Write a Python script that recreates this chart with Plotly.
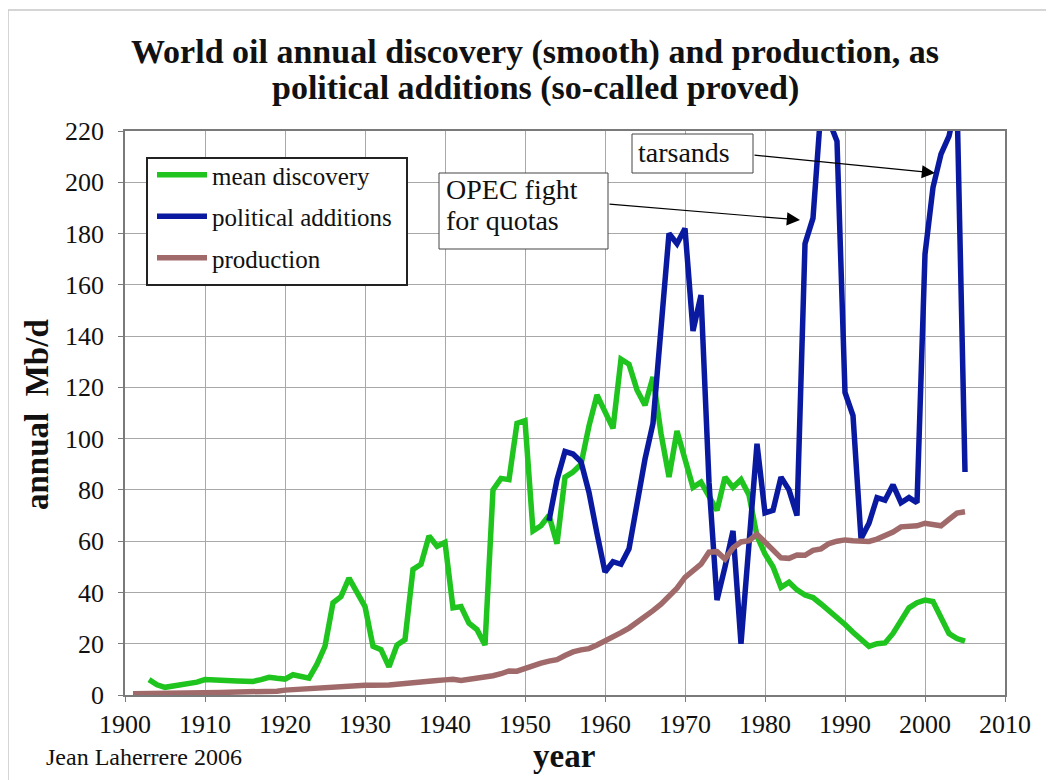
import plotly.graph_objects as go

# ---------------- data ----------------
disc_years = list(range(1903, 2006))
disc_values = [
    6, 4, 3, 3.5, 4, 4.4, 5, 6, 6, 6,            # 1903-1912
    5.8, 5.5, 5.4, 5.3, 6, 6.9, 6.5, 6.2, 7.9, 7.3,  # 1913-1922
    6.6, 12, 19, 36, 38.4, 45.6, 40, 34.5, 19, 17.7,  # 1923-1932
    11, 19.5, 21.6, 49, 51, 62, 58, 59.5, 34, 34.5,   # 1933-1942
    28, 25.5, 19.5, 80, 84.5, 84, 106, 107, 64, 66,   # 1943-1952
    70, 59, 85, 87, 90, 105, 117, 110, 104, 131,      # 1953-1962
    129, 119, 113, 124, 102, 85, 103, 92, 81, 83,     # 1963-1972
    77, 72, 85, 81, 84, 78, 62, 55, 50, 42,           # 1973-1982
    44, 41, 39, 38, 35.5, 33, 30, 27.5, 24.5, 22,     # 1983-1992
    19, 20, 20.3, 24, 29, 34, 36, 37, 36.5, 30,       # 1993-2002
    24, 22, 21,                                       # 2003-2005
]

pol_years = list(range(1953, 2006))
pol_values = [
    68, 84, 95, 94, 91, 79, 63, 48, 52, 51,           # 1953-1962
    57, 76, 92, 106, 141, 180, 176, 182, 142, 156,    # 1963-1972
    83, 37, 50, 64, 20, 59, 98, 71, 72, 85,           # 1973-1982
    80, 70, 176, 186, 229, 224, 216, 118, 109, 61,    # 1983-1992
    67, 77, 76, 82, 75, 77, 75, 172, 198, 211,        # 1993-2002
    218, 232, 87,                                     # 2003-2005
]

prod_years = list(range(1901, 2006))
prod_values = [
    0.5, 0.5, 0.6, 0.6, 0.6, 0.6, 0.7, 0.8, 0.8, 0.9,     # 1901-1910
    0.9, 1.0, 1.1, 1.1, 1.2, 1.3, 1.4, 1.4, 1.5, 1.9,     # 1911-1920
    2.1, 2.4, 2.8, 2.8, 2.9, 3.0, 3.4, 3.6, 4.1, 3.8,     # 1921-1930
    3.8, 3.6, 3.9, 4.2, 4.5, 4.9, 5.6, 5.5, 5.7, 5.9,     # 1931-1940
    6.1, 5.7, 6.1, 7.0, 7.1, 7.5, 8.3, 9.4, 9.3, 10.4,    # 1941-1950
    11.7, 12.4, 13.2, 13.8, 15.4, 16.8, 17.6, 18.1, 19.5, 21.0,  # 1951-1960
    22.4, 24.3, 26.1, 28.2, 30.3, 32.9, 35.4, 38.6, 41.7, 45.9,  # 1961-1970
    48.4, 51.0, 55.7, 55.9, 53.0, 57.4, 59.7, 60.2, 62.7, 59.6,  # 1971-1980
    56.1, 53.5, 53.3, 54.6, 54.5, 56.4, 57.0, 59.1, 60.0, 60.5,  # 1981-1990
    60.2, 60.2, 59.9, 60.8, 62.1, 63.6, 65.6, 66.0, 66.0, 67.0,  # 1991-2000
    66.5, 66.0, 68.5, 71.0, 71.5,                                # 2001-2005
]

series_names = ["mean discovery", "political additions", "production"]
series_colors = ["#1fc41f", "#0a1aa0", "#a06a6a"]

title_lines = ["World oil annual discovery (smooth) and production, as",
               "political additions (so-called proved)"]
x_title = "year"
y_title = "annual  Mb/d"
credit = "Jean Laherrere 2006"
opec_lines = ["OPEC fight", "for quotas"]
tar_text = "tarsands"

# ---------------- layout geometry ----------------
# the page body has an 8px margin, so the figure is drawn 8px in from the corner
OFF = 8
W, H = 1054 - OFF, 780 - OFF
PLOT_L, PLOT_T, PW, PH = 125, 131, 880, 564   # plot area on screen
L, T = PLOT_L - OFF, PLOT_T - OFF
R, B = W - L - PW, H - T - PH


def px(xp):
    return (xp - PLOT_L) / PW


def py(yp):
    return (PLOT_T + PH - yp) / PH


def dx(xp):
    return 1900 + px(xp) * 110


def dy(yp):
    return py(yp) * 220


FONT = "Liberation Serif"

fig = go.Figure()
for yrs, vals, name, col in zip([disc_years, pol_years, prod_years],
                                [disc_values, pol_values, prod_values],
                                series_names, series_colors):
    fig.add_trace(go.Scatter(x=yrs, y=vals, mode="lines", name=name,
                             line=dict(color=col, width=5.5),
                             legendgroup=name))

axis_common = dict(
    showgrid=True, gridcolor="#a8a8a8", gridwidth=1,
    showline=True, linecolor="#7a7a7a", linewidth=1.5, mirror=True,
    ticks="outside", ticklen=5, tickcolor="#7a7a7a",
    tickfont=dict(family=FONT, size=26, color="#111"),
    zeroline=False,
)
fig.update_xaxes(range=[1900, 2010], dtick=10, tick0=1900,
                 ticklabelstandoff=0, **axis_common)
fig.update_yaxes(range=[0, 220], dtick=20, tick0=0,
                 ticklabelstandoff=9, **axis_common)


def label(text, xp, yp, size, xanchor="left", angle=0, bold=False):
    return dict(text=("<b>%s</b>" % text) if bold else text,
                x=px(xp), y=py(yp), xref="paper", yref="paper",
                showarrow=False, textangle=angle,
                font=dict(family=FONT, size=size, color="#111"),
                xanchor=xanchor, yanchor="middle")


annotations = []
for line_txt, ycen in zip(title_lines, [52, 88]):
    annotations.append(label(line_txt, 535, ycen, 34, "center", bold=True))
annotations.append(label(y_title, 37, 415, 33, "center", angle=-90, bold=True))
annotations.append(label(x_title, 564, 756, 33, "center", bold=True))
annotations.append(label(credit, 44, 757, 24))
for line_txt, ycen in zip(opec_lines, [189, 221]):
    annotations.append(label(line_txt, 444, ycen, 28))
annotations.append(label(tar_text, 636, 152, 28))

for tail, tip in [((608, 204), (800, 220)), ((753, 155), (935, 173))]:
    annotations.append(dict(text="", x=dx(tip[0]), y=dy(tip[1]),
                            ax=dx(tail[0]), ay=dy(tail[1]),
                            xref="x", yref="y", axref="x", ayref="y",
                            showarrow=True, arrowhead=2, arrowsize=2.2,
                            arrowwidth=1.2, arrowcolor="#000", standoff=0))


def box(x0, y0, x1, y1, color, width):
    return dict(type="rect", xref="paper", yref="paper",
                x0=px(x0), y0=py(y1), x1=px(x1), y1=py(y0),
                fillcolor="white", line=dict(color=color, width=width),
                layer="above")


shapes = [
    dict(type="rect", xref="paper", yref="paper",
         x0=px(8), y0=py(800), x1=px(1070), y1=py(10),
         line=dict(color="#c8c8c8", width=1.5), layer="below"),
    box(147, 158, 407, 285, "#222", 2),      # legend frame
    box(439, 173, 608, 249, "#444", 1),      # OPEC box
    box(632, 134, 753, 173, "#444", 1),      # tarsands box
]

fig.update_layout(
    width=W, height=H,
    margin=dict(l=L, r=R, t=T, b=B, autoexpand=False),
    paper_bgcolor="white", plot_bgcolor="white",
    showlegend=True,
    legend=dict(x=px(152), y=py(152), xanchor="left", yanchor="top",
                bgcolor="rgba(0,0,0,0)", borderwidth=0,
                font=dict(family=FONT, size=25, color="#111"),
                itemwidth=50, tracegroupgap=6, traceorder="grouped"),
    annotations=annotations,
    shapes=shapes,
)

fig.write_html("out.html")
